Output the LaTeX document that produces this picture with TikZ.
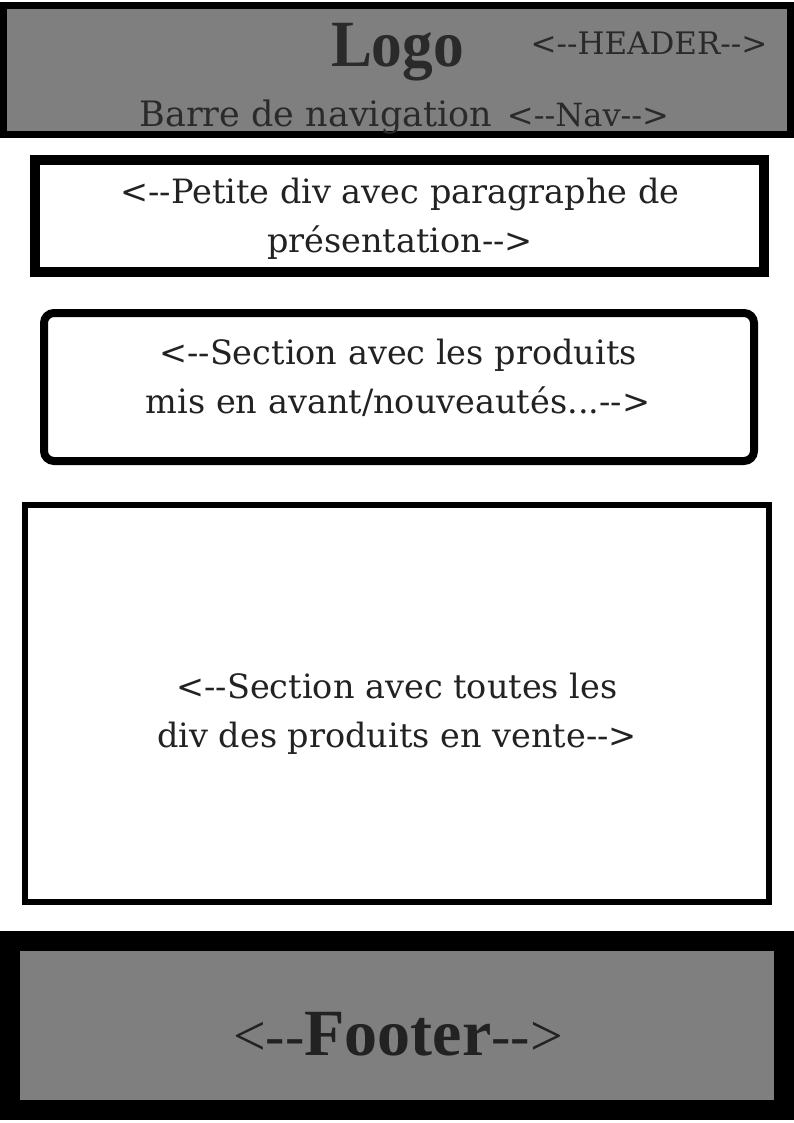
\documentclass[tikz,border=0pt]{standalone}
\usepackage{fontspec}
\setmainfont{DejaVu Serif}[Ligatures=TeXOff]
\newfontfamily\fatfont{Liberation Serif Bold}[FakeStretch=0.93,Ligatures=TeXOff]
\newfontfamily\widefatfont{Liberation Serif Bold}[Ligatures=TeXOff]
\newfontfamily\thinfont{Liberation Serif}[Ligatures=TeXOff]
\usepackage{tikz}

\begin{document}
\begin{tikzpicture}[x=1pt,y=-1pt,inner sep=0pt,
  frame/.style={draw=black,fill=white,line width=#1},
  grey box/.style={draw=black,fill=boxgrey,line width=#1},
  big text/.style={anchor=base,align=center,text=ink,font=\fontsize{33.5}{49}\selectfont},
  head text/.style={anchor=base,text=headink,font=\fontsize{#1}{#1}\selectfont}]
  \definecolor{boxgrey}{HTML}{7F7F7F}
  \definecolor{ink}{HTML}{222222}
  \definecolor{headink}{HTML}{2A2A2A}

  \useasboundingbox[fill=white] (0,0) rectangle (794,1123);

  \node[grey box=7pt,minimum width=787pt,minimum height=129pt] (header) at (397,70) {};
  \node[head text=66,font=\fatfont\fontsize{66}{66}\selectfont] (logo) at (397.5,67) {Logo};
  \node[head text=31] (htag) at (649,55) {<--HEADER-->};
  \node[head text=35] (nav) at (316,127) {Barre de navigation};
  \node[head text=32] (navtag) at (588,127) {<--Nav-->};

  \node[frame=10pt,minimum width=729pt,minimum height=112pt] (intro) at (399.5,216) {};
  \node[big text] (introtxt) at (400,252) {<--Petite div avec paragraphe de\\présentation-->};

  \node[frame=8pt,rounded corners=10pt,minimum width=710pt,minimum height=148pt] (featured) at (399,387) {};
  \node[big text] (featuredtxt) at (398,413) {<--Section avec les produits\\mis en avant/nouveautés...-->};

  \node[frame=6pt,minimum width=744pt,minimum height=397pt] (shop) at (397,703.5) {};
  \node[big text] (shoptxt) at (397,747) {<--Section avec toutes les\\div des produits en vente-->};

  \node[grey box=20pt,minimum width=774pt,minimum height=169pt] (footer) at (397,1025.5) {};
  \node[anchor=base,text=ink] (foottxt) at (398,1055)
    {\thinfont\fontsize{58}{58}\selectfont<--{\widefatfont\fontsize{66}{66}\selectfont Footer}-->};
\end{tikzpicture}
\end{document}
